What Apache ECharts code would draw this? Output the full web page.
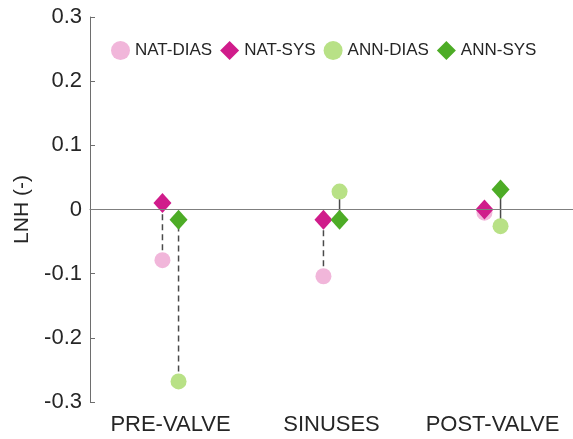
<!DOCTYPE html>
<html>
<head>
<meta charset="utf-8">
<script src="https://cdn.jsdelivr.net/npm/echarts@6/dist/echarts.min.js"></script>
<style>
html,body{margin:0;padding:0;background:#fff;}
#chart{width:573px;height:439px;}
</style>
</head>
<body>
<div id="chart"></div>
<script>
// ---- data ----
var categories = ['PRE-VALVE', 'SINUSES', 'POST-VALVE'];
var natDias = [-0.079, -0.104, -0.005];
var natSys  = [0.010, -0.016, 0.000];
var annDias = [-0.268, 0.028, -0.026];
var annSys  = [-0.016, -0.016, 0.031];
var natConnector = ['dashed', 'dashed', 'solid'];
var annConnector = ['dashed', 'solid', 'solid'];
var yTicks = [-0.3, -0.2, -0.1, 0, 0.1, 0.2, 0.3];

// ---- presentation ----
var natOffset = -0.05, annOffset = 0.05;
var FONT = 'Liberation Sans, Arial, Helvetica, sans-serif';
var TXT = '#262626', AX = '#6e6e6e';

function pts(vals, off) {
  return vals.map(function (v, i) { return [i + 1 + off, v]; });
}

var series = [];
// connectors
categories.forEach(function (c, i) {
  [[natDias, natSys, natOffset, natConnector], [annDias, annSys, annOffset, annConnector]].forEach(function (g) {
    series.push({
      type: 'line', xAxisIndex: 1, yAxisIndex: 0,
      data: [[i + 1 + g[2], g[0][i]], [i + 1 + g[2], g[1][i]]],
      symbol: 'none', silent: true, z: 1,
      lineStyle: { color: '#4a4a4a', width: 1.5, type: g[3][i] === 'dashed' ? [6, 4] : 'solid' }
    });
  });
});
// zero line
series.push({
  type: 'line', xAxisIndex: 1, data: [], silent: true,
  markLine: { silent: true, symbol: 'none', label: { show: false },
    lineStyle: { color: '#7f7f7f', width: 1.2, type: 'solid' }, data: [{ yAxis: 0 }] }
});
var scat = [
  { name: 'NAT-DIAS', vals: natDias, off: natOffset, sym: 'circle', size: 16, color: '#f1b6da' },
  { name: 'NAT-SYS', vals: natSys, off: natOffset, sym: 'diamond', size: [18, 20], color: '#d01c8b' },
  { name: 'ANN-DIAS', vals: annDias, off: annOffset, sym: 'circle', size: 16, color: '#b8e186' },
  { name: 'ANN-SYS', vals: annSys, off: annOffset, sym: 'diamond', size: [18, 20], color: '#4dac26' }
];
scat.forEach(function (s, k) {
  series.push({
    name: s.name, type: 'scatter', xAxisIndex: 1, yAxisIndex: 0,
    data: pts(s.vals, s.off), symbol: s.sym, symbolSize: s.size,
    itemStyle: { color: s.color, opacity: 1 }, z: 3 + (k % 2)
  });
});

var chart = echarts.init(document.getElementById('chart'), null, { renderer: 'canvas' });
chart.setOption({
  animation: false,
  backgroundColor: '#fff',
  grid: { left: 90, right: 0, top: 17, bottom: 37, containLabel: false },
  legend: {
    data: scat.map(function (s) { return { name: s.name, icon: s.sym }; }),
    left: 106, top: 36, itemWidth: 19, itemHeight: 19, itemGap: 8,
    textStyle: { fontFamily: FONT, fontSize: 17, color: TXT }
  },
  xAxis: [{
    type: 'category', data: categories, boundaryGap: true,
    axisLine: { lineStyle: { color: AX, width: 1 } },
    axisTick: { inside: true, alignWithLabel: true, length: 5, lineStyle: { color: AX } },
    axisLabel: { interval: 0, fontFamily: FONT, fontSize: 22, color: TXT, margin: 12 },
    splitLine: { show: false }
  }, {
    type: 'value', min: 0.5, max: 3.5, show: false
  }],
  yAxis: {
    type: 'value', min: yTicks[0], max: yTicks[yTicks.length - 1], interval: 0.1,
    name: 'LNH (-)', nameLocation: 'middle', nameGap: 54, nameRotate: 90,
    nameTextStyle: { fontFamily: FONT, fontSize: 21, color: TXT },
    axisLine: { show: true, lineStyle: { color: AX, width: 1 } },
    axisTick: { show: true, inside: true, length: 5, lineStyle: { color: AX } },
    axisLabel: { fontFamily: FONT, fontSize: 22, color: TXT, margin: 8,
      formatter: function (v) { return Math.abs(v) < 1e-9 ? '0' : v.toFixed(1); } },
    splitLine: { show: false }
  },
  series: series
});
</script>
</body>
</html>
